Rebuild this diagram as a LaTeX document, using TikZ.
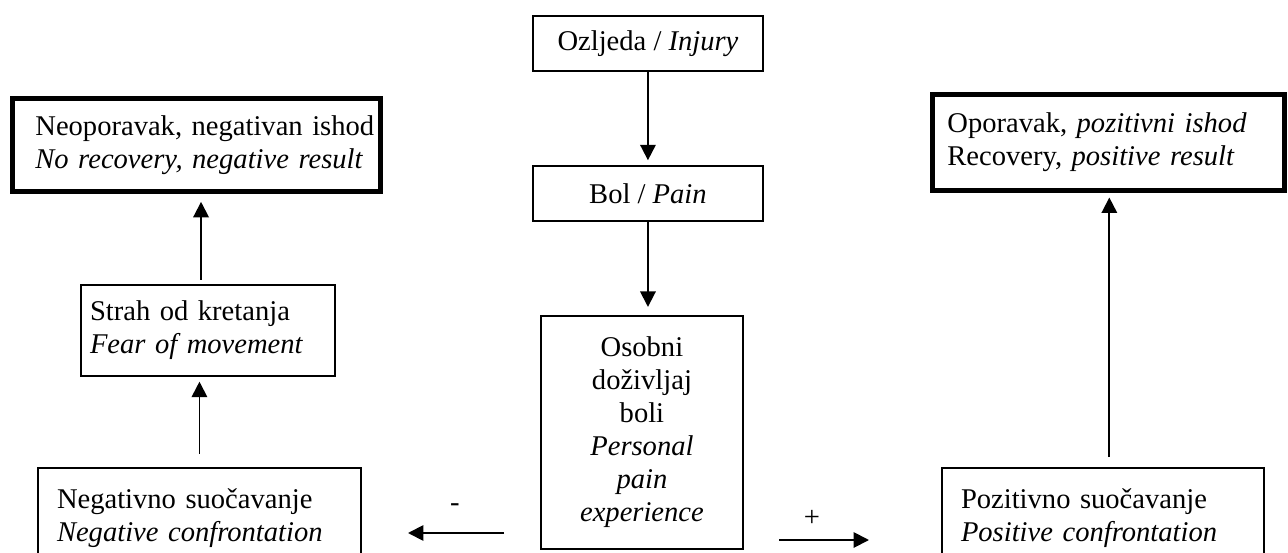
\documentclass[tikz,border=0pt]{standalone}
\usepackage{fontspec}
\setmainfont{Liberation Serif}
\usetikzlibrary{arrows.meta}
\begin{document}
\begin{tikzpicture}[x=0.42pt,y=-0.42pt,
  every node/.style={font=\fontsize{12}{13.86}\selectfont},
  box/.style={draw, line width=0.8pt, inner sep=0pt, anchor=north west},
  thickbox/.style={box, line width=2pt},
  arr/.style={line width=0.8pt, -{Triangle[length=6.5pt,width=6.5pt]}}]
\useasboundingbox (0,0) rectangle (1288,553);
\clip (0,0) rectangle (1288,553);

\node[box, minimum width=96.6pt, minimum height=23.1pt, align=center] (inj) at (532,15) {Ozljeda / \textit{Injury}};
\node[box, minimum width=96.6pt, minimum height=23.1pt, align=center] (pain) at (532,165) {Bol / \textit{Pain}};
\node[box, minimum width=84.84pt, minimum height=97.86pt, align=center] (exp) at (540,315)
  {Osobni\\doživljaj\\boli\\\textit{Personal}\\\textit{pain}\\\textit{experience}};

\node[thickbox, text width=154.56pt, minimum height=39.06pt, align=left] (negout) at (10,96)
  {\hspace*{9.66pt}Neoporavak, negativan ishod\\\hspace*{9.66pt}\textit{No recovery, negative result}};
\node[thickbox, text width=147.84pt, minimum height=40.32pt, align=left] (posout) at (930,92)
  {\hspace*{6.3pt}Oporavak, \textit{pozitivni ishod}\\\hspace*{6.3pt}Recovery, \textit{positive result}};

\node[box, text width=106.68pt, minimum height=38.22pt, align=left] (fear) at (80,284)
  {\hspace*{3.8pt}Strah od kretanja\\\hspace*{3.8pt}\textit{Fear of movement}};

\node[box, text width=135.66pt, minimum height=42pt, align=left] (neg) at (37,467)
  {\hspace*{8pt}Negativno suočavanje\\\hspace*{8pt}\textit{Negative confrontation}};
\node[box, text width=135.24pt, minimum height=42pt, align=left] (pos) at (941,467)
  {\hspace*{8pt}Pozitivno suočavanje\\\hspace*{8pt}\textit{Positive confrontation}};

\draw[arr, shorten >=2pt] (inj) -- (pain);
\draw[arr, shorten >=3.4pt] (pain.south) -- (pain.south |- exp.north);
\draw[arr, shorten <=1.7pt, shorten >=3.4pt] ([xshift=-2.9pt]fear.north) -- ([xshift=-2.9pt]fear.north |- negout.south);
\draw[arr, shorten <=5.5pt, shorten >=2pt] (neg.north) -- (neg.north |- fear.south);
\draw[arr, shorten <=4.2pt, shorten >=2pt] ([xshift=0.4pt]posout.south |- pos.north) -- ([xshift=0.4pt]posout.south);

\coordinate (m1) at (504,533);
\coordinate (m2) at (408,533);
\draw[arr] (m1) -- (m2);
\node (minus) at (455,508) {-};
\coordinate (p1) at (779,540);
\coordinate (p2) at (869,540);
\draw[arr] (p1) -- (p2);
\node (plus) at (812,518) {+};
\end{tikzpicture}
\end{document}
